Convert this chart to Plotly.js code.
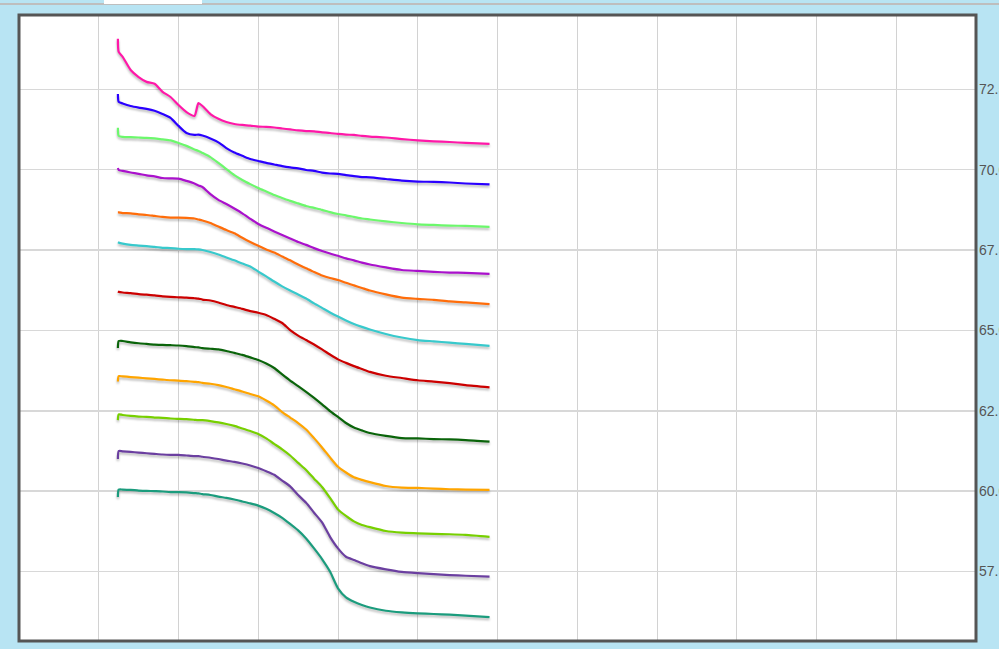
<!DOCTYPE html>
<html>
<head>
<meta charset="utf-8">
<script src="https://cdn.plot.ly/plotly-3.0.1.min.js"></script>
<style>
  html, body { margin: 0; padding: 0; background: #b8e4f3; overflow: hidden; }
  #chart { width: 999px; height: 649px; }
  #topline { position: absolute; left: 0; top: 3px; width: 999px; height: 2px; background: #bebebe; }
  #toptab { position: absolute; left: 104px; top: 0; width: 98px; height: 3.5px; background: #ffffff; }
  .scatterlayer .trace path.js-line { filter: drop-shadow(0px 2px 1px rgba(0,0,0,0.28)); }
</style>
</head>
<body>
<div id="chart"></div>
<div id="topline"></div>
<div id="toptab"></div>
<script>
// shared x positions (axis has no visible labels)
const xs = [1.24,1.25,1.3,1.4,1.5,1.6,1.7,1.8,1.9,2.0,2.1,2.2,2.25,2.3,2.4,2.5,2.6,2.7,2.8,2.9,3.0,3.1,3.2,3.3,3.4,3.5,3.6,3.7,3.8,3.9,4.0,4.1,4.2,4.3,4.4,4.6,4.8,5.0,5.2,5.4,5.6,5.9];

const pink = [74.07,73.66,73.51,73.10,72.88,72.73,72.67,72.42,72.26,72.01,71.79,71.67,72.07,71.98,71.73,71.58,71.48,71.42,71.39,71.37,71.34,71.33,71.31,71.28,71.25,71.22,71.20,71.19,71.16,71.14,71.11,71.09,71.08,71.05,71.03,71.00,70.95,70.91,70.88,70.86,70.83,70.80];
const blue = [72.35,72.11,72.06,71.98,71.93,71.89,71.83,71.73,71.61,71.36,71.14,71.08,71.09,71.06,70.97,70.85,70.67,70.53,70.43,70.33,70.27,70.21,70.16,70.11,70.07,70.04,69.99,69.96,69.91,69.88,69.87,69.83,69.80,69.77,69.76,69.71,69.66,69.63,69.62,69.60,69.57,69.54];
const green = [71.30,71.05,71.02,71.01,71.00,70.99,70.97,70.94,70.91,70.83,70.74,70.63,70.58,70.52,70.39,70.21,70.02,69.83,69.68,69.55,69.43,69.32,69.21,69.12,69.03,68.95,68.87,68.81,68.75,68.68,68.62,68.58,68.53,68.48,68.45,68.39,68.34,68.30,68.28,68.26,68.25,68.22];
const purple = [70.05,69.99,69.96,69.91,69.87,69.82,69.79,69.74,69.73,69.72,69.65,69.57,69.51,69.46,69.24,69.06,68.93,68.79,68.64,68.47,68.31,68.19,68.08,67.97,67.86,67.75,67.66,67.56,67.47,67.39,67.32,67.24,67.18,67.11,67.05,66.96,66.88,66.85,66.82,66.80,66.79,66.76];
const orange = [68.67,68.67,68.65,68.64,68.61,68.59,68.56,68.53,68.51,68.51,68.50,68.48,68.45,68.42,68.34,68.23,68.12,68.02,67.88,67.75,67.63,67.52,67.42,67.30,67.18,67.05,66.93,66.82,66.71,66.63,66.57,66.48,66.40,66.32,66.24,66.12,66.02,65.98,65.95,65.90,65.87,65.82];
const cyan = [67.74,67.73,67.70,67.66,67.64,67.62,67.60,67.57,67.56,67.54,67.53,67.53,67.52,67.50,67.44,67.36,67.27,67.18,67.08,66.99,66.83,66.68,66.52,66.37,66.24,66.12,65.99,65.84,65.70,65.56,65.43,65.31,65.20,65.11,65.03,64.89,64.78,64.70,64.66,64.62,64.58,64.52];
const red = [66.21,66.20,66.18,66.16,66.13,66.11,66.09,66.06,66.04,66.03,66.02,66.00,65.99,65.96,65.93,65.87,65.79,65.73,65.67,65.60,65.55,65.48,65.36,65.23,65.01,64.84,64.70,64.56,64.41,64.25,64.10,63.99,63.89,63.80,63.71,63.59,63.52,63.45,63.41,63.36,63.30,63.23];
const darkGreen = [64.45,64.67,64.67,64.63,64.60,64.58,64.56,64.55,64.54,64.53,64.51,64.48,64.47,64.45,64.43,64.41,64.36,64.30,64.24,64.16,64.08,63.97,63.83,63.63,63.44,63.27,63.09,62.90,62.70,62.49,62.31,62.12,61.98,61.89,61.81,61.72,61.65,61.64,61.62,61.61,61.59,61.54];
const gold = [63.41,63.58,63.57,63.55,63.53,63.51,63.49,63.47,63.45,63.44,63.42,63.40,63.39,63.37,63.34,63.30,63.24,63.17,63.10,63.02,62.95,62.82,62.67,62.46,62.29,62.12,61.92,61.65,61.36,61.05,60.76,60.58,60.43,60.35,60.28,60.16,60.11,60.10,60.08,60.06,60.05,60.04];
const lime = [62.21,62.39,62.37,62.34,62.32,62.31,62.29,62.28,62.26,62.25,62.24,62.22,62.21,62.21,62.18,62.14,62.09,62.03,61.95,61.87,61.78,61.64,61.47,61.30,61.11,60.88,60.66,60.39,60.13,59.79,59.43,59.23,59.06,58.95,58.88,58.76,58.71,58.69,58.67,58.66,58.64,58.58];
const darkPurple = [61.00,61.25,61.24,61.22,61.20,61.18,61.16,61.14,61.13,61.13,61.11,61.09,61.09,61.07,61.04,61.00,60.95,60.91,60.86,60.80,60.72,60.62,60.51,60.33,60.15,59.88,59.64,59.33,59.03,58.58,58.22,57.96,57.86,57.76,57.67,57.57,57.49,57.45,57.42,57.39,57.37,57.34];
const teal = [59.82,60.05,60.05,60.04,60.02,60.01,60.00,59.99,59.97,59.97,59.96,59.94,59.93,59.91,59.88,59.83,59.79,59.74,59.68,59.62,59.55,59.45,59.32,59.17,58.98,58.78,58.53,58.22,57.89,57.50,56.98,56.70,56.56,56.46,56.38,56.28,56.23,56.20,56.18,56.16,56.13,56.08];

const seriesList = [pink, blue, green, purple, orange, cyan, red, darkGreen, gold, lime, darkPurple, teal];
const colors = ['#ff18a8','#2a00ff','#6cf86c','#aa11cc','#ff6d0a','#38c9cc','#cc0000','#0a640a','#ffa500','#77d000','#6b3fa0','#1b9c7d'];

const traces = seriesList.map((ys, i) => ({
  x: xs, y: ys, type: 'scatter', mode: 'lines',
  line: { color: colors[i], width: 2.2, shape: 'spline', smoothing: 0.6 },
  hoverinfo: 'skip', showlegend: false
}));

const layout = {
  width: 999, height: 649,
  margin: { l: 19, r: 23, t: 15, b: 8 },
  paper_bgcolor: '#b8e4f3',
  plot_bgcolor: '#ffffff',
  showlegend: false,
  xaxis: {
    range: [0, 12], dtick: 1, tick0: 0,
    showgrid: true, gridcolor: '#d2d2d2', gridwidth: 1,
    zeroline: false, showticklabels: false, ticks: '', showline: false
  },
  yaxis: {
    side: 'right', range: [55.34, 74.81], tick0: 57.5, dtick: 2.5, tickformat: '.1f',
    showgrid: true, gridcolor: '#d8d8d8', gridwidth: 1.5,
    zeroline: false, ticks: '', showline: false, ticklabelstandoff: 2,
    tickfont: { family: '"Liberation Sans", Arial, sans-serif', size: 14, color: '#555555' }
  },
  shapes: [{
    type: 'rect', xref: 'paper', yref: 'paper', x0: 0, x1: 1, y0: 0, y1: 1,
    line: { color: '#555555', width: 3 }, fillcolor: 'rgba(0,0,0,0)', layer: 'above'
  }]
};

Plotly.newPlot('chart', traces, layout, { displayModeBar: false, staticPlot: true });
</script>
</body>
</html>
